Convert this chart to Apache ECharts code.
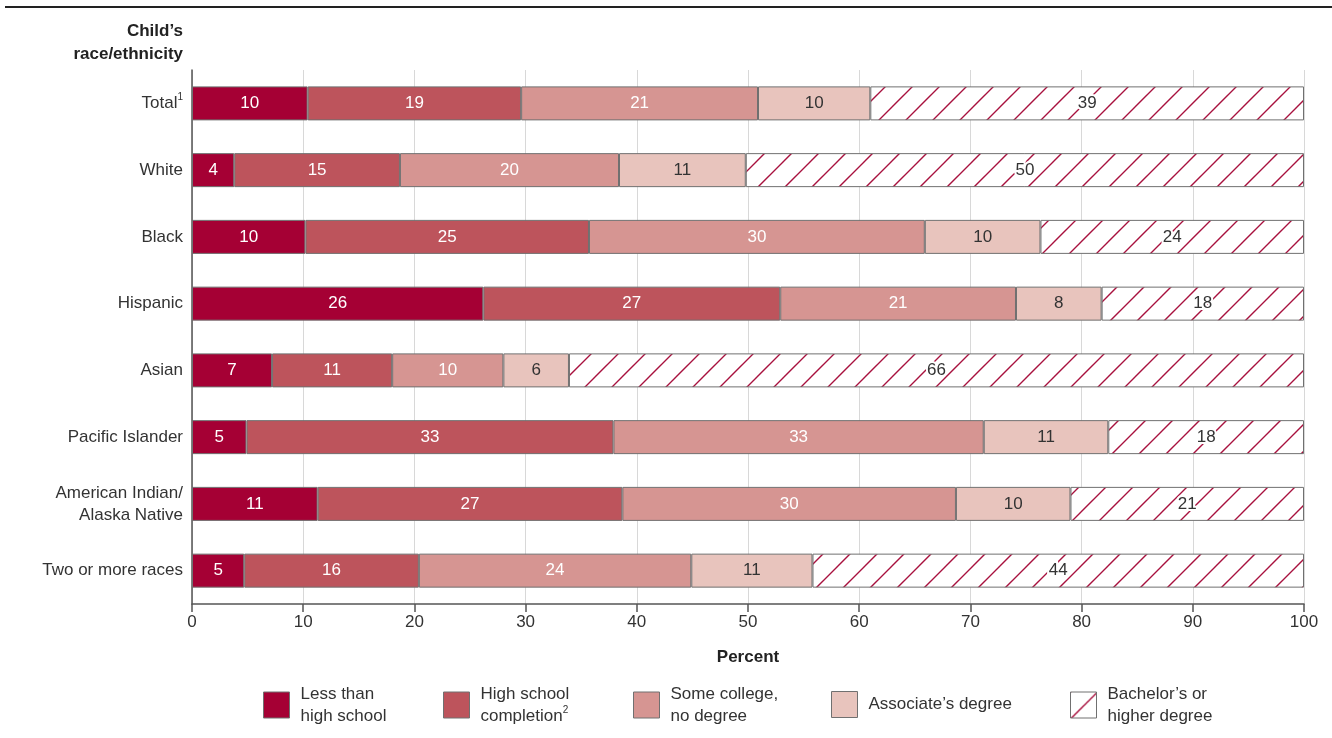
<!DOCTYPE html>
<html><head><meta charset="utf-8">
<script src="https://cdn.jsdelivr.net/npm/echarts@6/dist/echarts.min.js"></script>
<style>html,body{margin:0;padding:0;background:#fff}#c{width:1332px;height:738px}</style>
</head><body><div id="c"></div>
<script>
const categories = ['Total', 'White', 'Black', 'Hispanic', 'Asian', 'Pacific Islander', 'American Indian/\nAlaska Native', 'Two or more races'];
const seriesNames = ['Less than\nhigh school', 'High school\ncompletion', 'Some college,\nno degree', "Associate\u2019s degree", "Bachelor\u2019s or\nhigher degree"];
const lessThanHS   = [10.4, 3.8, 10.2, 26.2, 7.2, 4.9, 11.3, 4.7];
const hsCompletion = [19.2, 14.9, 25.5, 26.7, 10.8, 33.0, 27.4, 15.7];
const someCollege  = [21.3, 19.7, 30.2, 21.2, 10.0, 33.3, 30.0, 24.5];
const associate    = [10.1, 11.4, 10.4, 7.7, 5.9, 11.2, 10.3, 10.9];
const bachelors    = [39.0, 50.2, 23.7, 18.2, 66.1, 17.6, 21.0, 44.2];
const displayLabels = [
  [10, 4, 10, 26, 7, 5, 11, 5],
  [19, 15, 25, 27, 11, 33, 27, 16],
  [21, 20, 30, 21, 10, 33, 30, 24],
  [10, 11, 10, 8, 6, 11, 10, 11],
  [39, 50, 24, 18, 66, 18, 21, 44]
];
const xTicks = [0, 10, 20, 30, 40, 50, 60, 70, 80, 90, 100];

const FONT = '"Liberation Sans", "DejaVu Sans", sans-serif';
const colors = ['#A50034', '#BD545C', '#D69592', '#E8C4BD'];

// hatch pattern
const tile = 27;
const cv = document.createElement('canvas');
cv.width = tile; cv.height = tile;
const g = cv.getContext('2d');
g.fillStyle = '#fff'; g.fillRect(0, 0, tile, tile);
g.strokeStyle = '#A8113E'; g.lineWidth = 1.4;
g.beginPath();
g.moveTo(-3, tile + 3); g.lineTo(tile + 3, -3);
g.moveTo(-3, 3); g.lineTo(3, -3);
g.moveTo(tile - 3, tile + 3); g.lineTo(tile + 3, tile - 3);
g.stroke();
const hatch = { image: cv, repeat: 'repeat' };

const allData = [lessThanHS, hsCompletion, someCollege, associate, bachelors];
const legendLefts = [258, 438, 628, 826, 1065];
const legendTops = [678, 678, 678, 686, 678];

const series = allData.map((d, i) => ({
  name: seriesNames[i],
  type: 'bar',
  stack: 'total',
  barWidth: 34,
  data: d,
  itemStyle: { color: i < 4 ? colors[i] : hatch, borderColor: '#707070', borderWidth: 1 },
  emphasis: { disabled: true },
  label: {
    show: true,
    position: 'inside',
    fontFamily: FONT,
    fontSize: 17,
    color: i < 3 ? '#fff' : '#333',
    textBorderColor: i === 4 ? '#fff' : 'transparent',
    textBorderWidth: i === 4 ? 4 : 0,
    formatter: p => String(displayLabels[i][p.dataIndex])
  }
}));

const legends = seriesNames.map((n, i) => ({
  data: [n],
  left: legendLefts[i],
  top: legendTops[i],
  itemWidth: 26,
  itemHeight: 26,
  selectedMode: false,
  icon: 'rect',
  itemStyle: { borderColor: '#707070', borderWidth: 1 },
  formatter: name => i === 1 ? 'High school\ncompletion{sup|2}' : name,
  textStyle: {
    fontFamily: FONT, fontSize: 17, color: '#333', lineHeight: 22, padding: [0, 0, 0, 6],
    rich: { sup: { fontSize: 10, verticalAlign: 'top', padding: [0, 0, 8, 0], color: '#333', fontFamily: FONT } }
  }
}));

const chart = echarts.init(document.getElementById('c'), null, { renderer: 'canvas' });
chart.setOption({
  animation: false,
  backgroundColor: '#fff',
  grid: { left: 192, right: 28, top: 70, bottom: 134, containLabel: false },
  legend: legends,
  graphic: [
    { type: 'line', shape: { x1: 5, y1: 7, x2: 1332, y2: 7 }, style: { stroke: '#222', lineWidth: 2 } },
    { type: 'text', x: 183, y: 20, style: { text: "Child\u2019s\nrace/ethnicity", align: 'right', verticalAlign: 'top', fill: '#222', font: 'bold 17px ' + FONT, lineHeight: 23 } }
  ],
  xAxis: {
    type: 'value', min: xTicks[0], max: xTicks[xTicks.length - 1], interval: 10,
    name: 'Percent', nameLocation: 'middle', nameGap: 45,
    nameTextStyle: { fontFamily: FONT, fontSize: 17, fontWeight: 'bold', color: '#222' },
    axisLine: { show: true, lineStyle: { color: '#555', width: 1.5 } },
    axisTick: { show: true, length: 8, lineStyle: { color: '#555', width: 1.5 } },
    axisLabel: { fontFamily: FONT, fontSize: 17, color: '#333', margin: 10 },
    splitLine: { show: true, lineStyle: { color: '#d8d8d8', width: 1 } }
  },
  yAxis: {
    type: 'category', data: categories, inverse: true,
    axisLine: { show: true, lineStyle: { color: '#555', width: 1.5 } },
    axisTick: { show: false },
    axisLabel: {
      fontFamily: FONT, fontSize: 17, color: '#333', margin: 9, lineHeight: 22,
      formatter: v => v === 'Total' ? 'Total{sup|1}' : v,
      rich: { sup: { fontSize: 10, verticalAlign: 'top', padding: [0, 0, 8, 0], color: '#333', fontFamily: FONT } }
    }
  },
  series: series
});
</script></body></html>
